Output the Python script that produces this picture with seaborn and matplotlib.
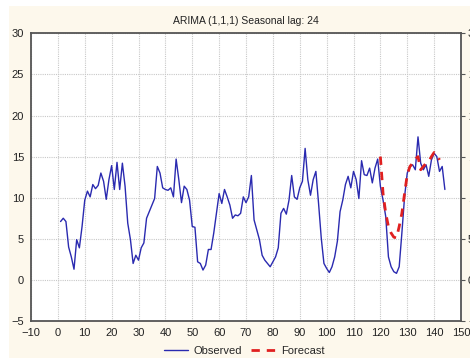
import numpy as np
import pandas as pd
import seaborn as sns
import matplotlib
matplotlib.use("Agg")
import matplotlib.pyplot as plt
from matplotlib.patches import Rectangle
from matplotlib.lines import Line2D

observed = [7.1, 7.5, 7.1, 4.0, 2.8, 1.3, 4.9, 3.9, 6.5, 9.7,
            10.8, 10.1, 11.6, 11.1, 11.5, 13.0, 12.0, 9.8, 12.2, 13.9,
            11.0, 14.3, 11.0, 14.2, 11.4, 6.9, 4.9, 2.0, 3.0, 2.4,
            3.9, 4.5, 7.5, 8.3, 9.1, 9.9, 13.8, 13.0, 11.2, 11.0,
            10.9, 11.2, 10.1, 14.7, 12.2, 9.4, 11.4, 11.0, 9.7, 6.5,
            6.4, 2.2, 2.0, 1.2, 1.8, 3.7, 3.7, 5.7, 8.1, 10.5,
            9.3, 11.0, 10.1, 9.1, 7.5, 7.9, 7.8, 8.1, 10.1, 9.4,
            10.1, 12.7, 7.3, 6.1, 4.9, 3.0, 2.4, 2.0, 1.6, 2.2,
            2.8, 3.9, 8.1, 8.7, 8.0, 9.7, 12.7, 10.1, 9.8, 11.2,
            12.0, 16.0, 12.2, 10.3, 12.2, 13.2, 9.3, 5.1, 2.0, 1.4,
            0.9, 1.6, 2.8, 4.7, 8.3, 9.7, 11.6, 12.6, 11.2, 13.2,
            12.2, 9.9, 14.5, 12.8, 12.7, 13.6, 11.8, 13.6, 14.7, 11.4,
            9.7, 7.7, 2.8, 1.6, 1.0, 0.8, 1.6, 5.7, 10.1, 13.0,
            13.8, 14.0, 13.4, 17.4, 14.2, 13.4, 14.0, 12.6, 14.6, 15.4,
            15.0, 13.2, 13.8, 11.0]
observed_t = list(range(1, len(observed) + 1))

forecast = [15.0, 10.5, 8.1, 6.5, 5.7, 5.2, 5.1, 6.5, 8.1, 10.5,
            12.8, 13.8, 14.2, 14.7, 15.0, 13.4, 13.8, 14.2, 14.4, 15.0,
            15.5, 15.2, 14.6]
forecast_t = list(range(120, 120 + len(forecast)))

x_ticks = list(range(-10, 151, 10))
y_ticks = list(range(-5, 31, 5))
title = "ARIMA (1,1,1) Seasonal lag: 24"

sns.set_style("white")
plt.rcParams['font.family'] = ['Liberation Sans', 'DejaVu Sans']

fig = plt.figure(figsize=(4.7, 3.58), dpi=100)
fig.patch.set_facecolor("white")
fig.patches.append(Rectangle((9 / 470, 0), 1, 1 - 6 / 358, transform=fig.transFigure,
                             facecolor="#fdf8ec", edgecolor="none", zorder=-10))
ax = fig.add_axes([31 / 470, 1 - 321 / 358, (461 - 31) / 470, (321 - 33.3) / 358])
ax.set_facecolor("white")

obs_df = pd.DataFrame({"t": observed_t, "v": observed})
fc_df = pd.DataFrame({"t": forecast_t, "v": forecast})
blue = "#2a2ab0"
red = "#e02020"
sns.lineplot(data=obs_df, x="t", y="v", ax=ax, color=blue, lw=1.0, zorder=3)
sns.lineplot(data=fc_df, x="t", y="v", ax=ax, color=red, lw=2.0,
             linestyle=(0, (3, 2.5)), zorder=4)

ax.set_xlim(-10, 150)
ax.set_ylim(-5, 30)
ax.set_xticks(x_ticks)
ax.set_yticks(y_ticks)
ax.set_xlabel("")
ax.set_ylabel("")
ax.grid(True, color="#c8c8c8", linestyle=(0, (1, 1)), lw=0.8)
for s in ax.spines.values():
    s.set_color("#555555")
    s.set_linewidth(1.3)
ax.tick_params(axis="both", labelsize=8, length=3, width=0.8, color="#555555",
               direction="out", pad=2, labelcolor="#222222")
ax.tick_params(axis="y", right=True, labelright=True)
ax.set_title(title, fontsize=7.5, pad=7, color="#222222")

handles = [Line2D([], [], color=blue, lw=1.0),
           Line2D([], [], color=red, lw=2.0, linestyle=(0, (3, 2.5)))]
fig.legend(handles, ["Observed", "Forecast"], loc="center", bbox_to_anchor=(0.52, 0.02),
           ncol=2, frameon=False, fontsize=8, handlelength=2.2, columnspacing=0.8,
           handletextpad=0.5)

fig.savefig("out.png", dpi=100)
